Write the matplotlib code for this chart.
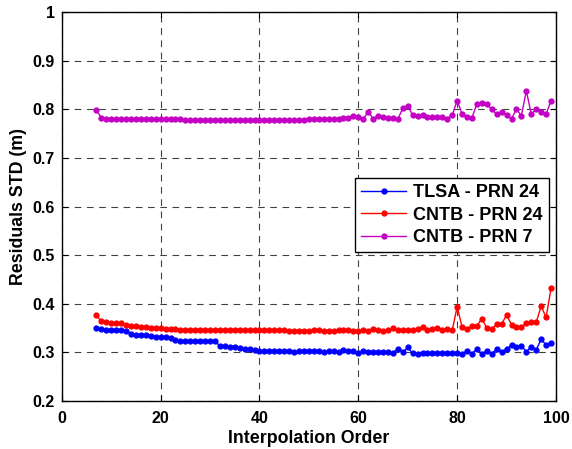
import matplotlib.pyplot as plt
import numpy as np

plt.rcParams['font.family'] = ['Liberation Sans', 'DejaVu Sans']
plt.rcParams['font.weight'] = 'bold'

# ==============================
# Datos
# ==============================
orden = list(range(7, 100))

tlsa_prn24 = [
    0.350, 0.348, 0.347, 0.346, 0.346, 0.346, 0.344,          # 7-13
    0.338, 0.336, 0.335, 0.335, 0.334, 0.332, 0.332, 0.331,   # 14-21
    0.329, 0.326, 0.324, 0.324, 0.324, 0.324, 0.323, 0.323,   # 22-29
    0.323, 0.323,                                             # 30-31
    0.313, 0.313, 0.312, 0.312, 0.308, 0.307, 0.306, 0.305,   # 32-39
    0.303, 0.302, 0.302, 0.302, 0.302, 0.302, 0.302, 0.301,   # 40-47
    0.302, 0.302, 0.303, 0.302, 0.302, 0.301, 0.302, 0.302,   # 48-55
    0.301, 0.304, 0.302, 0.302, 0.298, 0.303, 0.301, 0.300,   # 56-63
    0.301, 0.301, 0.300, 0.299, 0.307, 0.300, 0.310, 0.298,   # 64-71
    0.297, 0.298, 0.298, 0.298, 0.298, 0.298, 0.298, 0.298,   # 72-79
    0.298, 0.297, 0.303, 0.297, 0.307, 0.297, 0.303, 0.297,   # 80-87
    0.307, 0.301, 0.307, 0.315, 0.311, 0.314, 0.301, 0.312,   # 88-95
    0.305, 0.327, 0.315, 0.319,                               # 96-99
]

cntb_prn24 = [
    0.376, 0.364, 0.363, 0.361, 0.361, 0.360, 0.356,          # 7-13
    0.355, 0.354, 0.353, 0.352, 0.351, 0.351, 0.350, 0.348,   # 14-21
    0.348, 0.348, 0.347, 0.347, 0.347, 0.347, 0.347, 0.347,   # 22-29
    0.347, 0.347, 0.347, 0.347, 0.347, 0.347, 0.347, 0.347,   # 30-37
    0.347, 0.347,                                             # 38-39
    0.346, 0.346, 0.346, 0.346, 0.346, 0.346, 0.344, 0.343,   # 40-47
    0.343, 0.344, 0.344, 0.346, 0.346, 0.344, 0.343, 0.344,   # 48-55
    0.346, 0.346, 0.346, 0.344, 0.343, 0.346, 0.343, 0.348,   # 56-63
    0.345, 0.343, 0.345, 0.350, 0.345, 0.345, 0.345, 0.345,   # 64-71
    0.348, 0.352, 0.345, 0.348, 0.351, 0.345, 0.348, 0.345,   # 72-79
    0.394, 0.352, 0.348, 0.355, 0.355, 0.369, 0.350, 0.348,   # 80-87
    0.358, 0.358, 0.377, 0.357, 0.352, 0.352, 0.360, 0.362,   # 88-95
    0.362, 0.395, 0.372, 0.432,                               # 96-99
]

cntb_prn7 = [
    0.798, 0.783, 0.780, 0.780, 0.780, 0.780, 0.780, 0.780,   # 7-14
    0.780, 0.780, 0.780, 0.780, 0.780, 0.780, 0.780, 0.780,   # 15-22
    0.780, 0.780,                                             # 23-24
    0.778, 0.778, 0.778, 0.778, 0.778, 0.778, 0.778, 0.778,   # 25-32
    0.778, 0.778, 0.778, 0.778, 0.778, 0.778, 0.778, 0.778,   # 33-40
    0.778, 0.778, 0.778, 0.778, 0.778, 0.778, 0.778, 0.778,   # 41-48
    0.778,                                                    # 49
    0.780, 0.780, 0.780, 0.780,                               # 50-53
    0.780, 0.781, 0.781, 0.783, 0.783, 0.787, 0.785, 0.780,   # 54-61
    0.795, 0.781, 0.787, 0.785, 0.782, 0.783, 0.780, 0.802,   # 62-69
    0.807, 0.788, 0.786, 0.788, 0.784, 0.785, 0.785, 0.784,   # 70-77
    0.781, 0.788, 0.818, 0.791, 0.785, 0.783, 0.811, 0.813,   # 78-85
    0.811, 0.800, 0.790, 0.795, 0.788, 0.781, 0.800, 0.787,   # 86-93
    0.838, 0.790, 0.800, 0.795, 0.790, 0.818,                 # 94-99
]

series = [
    ('TLSA - PRN 24', tlsa_prn24, '#0000ff'),
    ('CNTB - PRN 24', cntb_prn24, '#ff0000'),
    ('CNTB - PRN 7', cntb_prn7, '#c400c4'),
]

# ==============================
# Figura
# ==============================
fig = plt.figure(figsize=(5.72, 4.49), dpi=100)
ax = fig.add_axes([0.108, 0.107, 0.864, 0.866])

for nombre, valores, color in series:
    ax.plot(orden, valores, color=color, marker='.', markersize=7,
            linewidth=1, label=nombre)

ax.set_xlim(0, 100)
ax.set_ylim(0.2, 1.0)
yticks = np.round(np.arange(0.2, 1.01, 0.1), 1)
ax.set_xticks(np.arange(0, 101, 20))
ax.set_yticks(yticks)
ax.set_yticklabels([f'{v:g}' for v in yticks])
ax.tick_params(direction='in', top=True, right=True, labelsize=11.5,
               length=4)
ax.tick_params(axis='x', pad=7)
ax.tick_params(axis='y', pad=5)
ax.grid(True, color='black', linestyle=(0, (6, 5)), linewidth=0.8, alpha=0.75)

ax.set_xlabel('Interpolation Order', fontsize=12.8, fontweight='bold', labelpad=3)
ax.set_ylabel('Residuals STD (m)', fontsize=12.8, fontweight='bold', labelpad=4)

leg = ax.legend(loc='upper left', bbox_to_anchor=(0.575, 0.597),
                prop={'weight': 'bold', 'size': 13}, fancybox=False,
                framealpha=1, edgecolor='black', handlelength=2.5,
                handletextpad=0.35, borderpad=0.35, labelspacing=0.3)
leg.get_frame().set_linewidth(1)

for spine in ax.spines.values():
    spine.set_linewidth(1)

plt.savefig('out.png', dpi=100)
